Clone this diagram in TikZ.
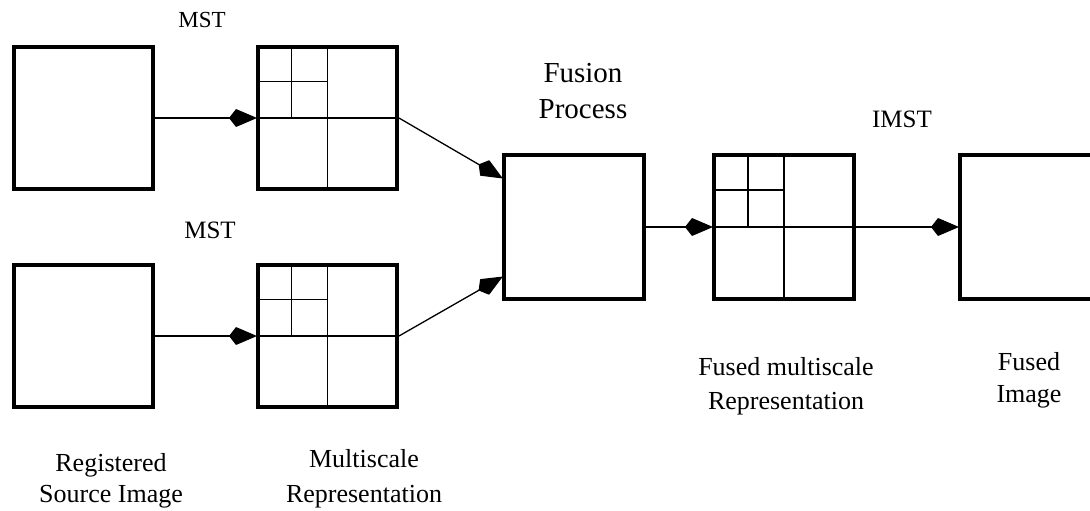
\documentclass[tikz,border=0pt]{standalone}
\usepackage{fontspec}
\setmainfont{Liberation Serif}
\usetikzlibrary{arrows.meta,calc}
\newcommand\quadgrid[1]{%
  \draw[gridline] (#1.west) -- (#1.east) (#1.north) -- (#1.south)
    ($(#1.north west)!0.25!(#1.north east)$) -- ($(#1.west)!0.25!(#1.east)$)
    ($(#1.north west)!0.5!(#1.west)$) -- ($(#1.north)!0.5!(#1.center)$);}
\begin{document}
\begin{tikzpicture}[x=1pt,y=-1pt,
  box/.style={draw, line width=4pt, minimum width=139pt, minimum height=142pt, inner sep=0pt, outer sep=2pt},
  gridline/.style={line width=1.3pt},
  arr/.style={line width=1.3pt, -{Kite[length=28pt,width=18pt,inset=7pt,round]}},
  lbl/.style={anchor=base, inner sep=0pt, font=\fontsize{26}{31}\selectfont},
  toplbl/.style={anchor=base, inner sep=0pt, font=\fontsize{#1}{#1}\selectfont}]
\useasboundingbox (0,0) rectangle (1090,511);
% boxes
\node[box] (a1) at (83,118) {};
\node[box] (b1) at (327.5,118) {};
\node[box] (a2) at (83,336) {};
\node[box] (b2) at (327.5,336) {};
\node[box, minimum width=140pt, minimum height=144pt] (fus) at (574,227) {};
\node[box, minimum width=140pt, minimum height=144pt] (fm) at (784,227) {};
\node[box, minimum width=140pt, minimum height=144pt, anchor=west] (fi) at (958,227) {};
\quadgrid{b1}
\quadgrid{b2}
\quadgrid{fm}
% connectors
\draw[arr] (a1) -- (b1);
\draw[arr] (a2) -- (b2);
\draw[arr] (b1.east) -- ([yshift=49pt]fus.west);
\draw[arr] (b2.east) -- ([yshift=-50pt]fus.west);
\draw[arr] (fus) -- (fm);
\draw[arr] (fm) -- (fi);
% labels
\node[toplbl=23] (mst1) at (202,28) {MST};
\node[toplbl=25] (mst2) at (210,238) {MST};
\node[toplbl=29] (fus1) at (583,82) {Fusion};
\node[toplbl=29] (fus2) at (583,118) {Process};
\node[toplbl=25] (imst) at (902,127) {IMST};
\node[lbl] (fm1) at (786,375) {Fused multiscale};
\node[lbl] (fm2) at (786,409) {Representation};
\node[lbl] (fi1) at (1029,370) {Fused};
\node[lbl] (fi2) at (1029,402) {Image};
\node[lbl] (rs1) at (111,471) {Registered};
\node[lbl] (rs2) at (111,502) {Source Image};
\node[lbl] (mr1) at (364,467) {Multiscale};
\node[lbl] (mr2) at (364,502) {Representation};
\end{tikzpicture}
\end{document}
